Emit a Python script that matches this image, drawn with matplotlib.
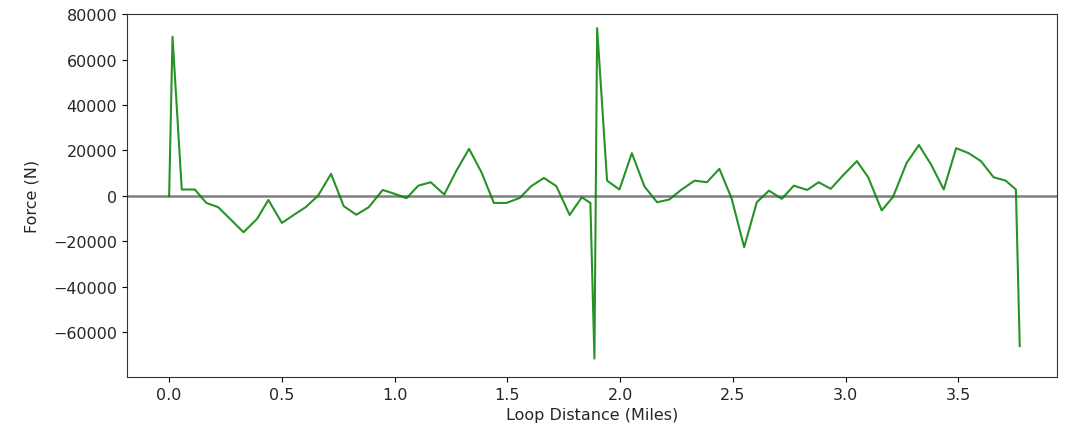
import matplotlib
matplotlib.use("Agg")
import matplotlib.pyplot as plt

distance_miles = [0.0, 0.015, 0.056, 0.114, 0.165, 0.218, 0.33, 0.39, 0.44, 0.50,
                  0.56, 0.605, 0.66, 0.718, 0.774, 0.83, 0.885, 0.947, 1.0, 1.053,
                  1.105, 1.16, 1.22, 1.274, 1.33, 1.385, 1.44, 1.496, 1.555, 1.606,
                  1.662, 1.717, 1.776, 1.83, 1.868, 1.886, 1.898, 1.942, 1.997, 2.052,
                  2.108, 2.164, 2.218, 2.27, 2.33, 2.385, 2.44, 2.494, 2.55, 2.606,
                  2.66, 2.717, 2.77, 2.83, 2.88, 2.934, 2.99, 3.05, 3.10, 3.16,
                  3.21, 3.27, 3.325, 3.38, 3.435, 3.49, 3.545, 3.60, 3.656, 3.71,
                  3.755, 3.772]
force_n = [0, 70000, 2800, 2800, -3100, -5000, -16000, -10100, -1800, -11900,
           -7900, -5000, 0, 9700, -4500, -8300, -5000, 2600, 900, -1000,
           4500, 6000, 600, 11100, 20700, 10400, -3100, -3100, -900, 4300,
           7900, 4300, -8400, -600, -3100, -71600, 73800, 6700, 2800, 18800,
           4100, -2800, -1600, 2600, 6700, 6000, 11900, -1000, -22600, -2800,
           2300, -1300, 4500, 2600, 6000, 3100, 9200, 15300, 8200, -6400,
           -500, 14400, 22400, 13600, 2800, 21000, 18800, 15300, 8200, 6700,
           2800, -66100]

x_ticks = [0.0, 0.5, 1.0, 1.5, 2.0, 2.5, 3.0, 3.5]
y_ticks = [-60000, -40000, -20000, 0, 20000, 40000, 60000, 80000]

plt.rcParams["font.size"] = 11.5
plt.rcParams["text.color"] = "#262626"
plt.rcParams["xtick.labelcolor"] = "#262626"
plt.rcParams["ytick.labelcolor"] = "#262626"
plt.rcParams["axes.labelcolor"] = "#262626"
plt.rcParams["axes.edgecolor"] = "#333333"

fig = plt.figure(figsize=(10.66, 4.31), dpi=100)
ax = fig.add_axes([0.119, 0.123, 0.8726, 0.842])
ax.axhline(0, color="black", alpha=0.5, linewidth=1.8, zorder=1)
ax.plot(distance_miles, force_n, color="green", alpha=0.85, linewidth=1.5, zorder=2)
ax.set_xticks(x_ticks)
ax.set_yticks(y_ticks)
ax.set_xlim(-0.1875, 3.9375)
ax.set_ylim(-79700, 80000)
ax.set_xlabel("Loop Distance (Miles)")
ax.set_ylabel("Force (N)", labelpad=10)
fig.savefig("out.png", dpi=100)
